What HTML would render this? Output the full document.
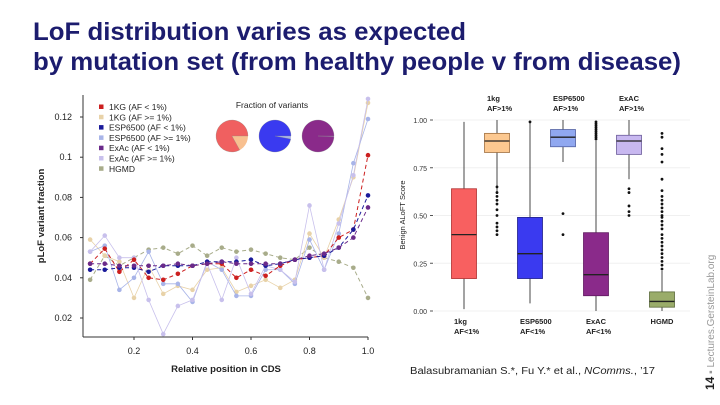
<!DOCTYPE html>
<html><head><meta charset="utf-8"><style>
html,body{margin:0;padding:0;background:#fff;}
svg{display:block;font-family:"Liberation Sans",sans-serif;}
</style></head><body>
<svg id="s" width="720" height="405" viewBox="0 0 720 405">
<text x="33" y="40" textLength="433" lengthAdjust="spacingAndGlyphs" font-size="25" font-weight="bold" fill="#1c1c6e">LoF distribution varies as expected</text>
<text x="33" y="70" textLength="648" lengthAdjust="spacingAndGlyphs" font-size="25" font-weight="bold" fill="#1c1c6e">by mutation set (from healthy people v from disease)</text>
<g id="left"></g>
<g id="right"></g>
<text x="410" y="374" font-size="10" textLength="245" lengthAdjust="spacingAndGlyphs" fill="#222">Balasubramanian S.*, Fu Y.*  et al., <tspan font-style="italic">NComms.</tspan>, ’17</text>
<text transform="translate(714,390) rotate(-90)" font-size="10" fill="#999"><tspan font-weight="bold" fill="#222" font-size="12">14</tspan> ▪ Lectures.GersteinLab.org</text>
</svg>
<script>
const NS='http://www.w3.org/2000/svg';
function mk(p,t,a,txt){const e=document.createElementNS(NS,t);for(const k in a)e.setAttribute(k,a[k]);if(txt!==undefined)e.textContent=txt;p.appendChild(e);return e;}

// ---------- left chart data ----------
const positions=[0.05,0.1,0.15,0.2,0.25,0.3,0.35,0.4,0.45,0.5,0.55,0.6,0.65,0.7,0.75,0.8,0.85,0.9,0.95,1.0];
const seriesNames=['1KG (AF < 1%)','1KG (AF >= 1%)','ESP6500 (AF < 1%)','ESP6500 (AF >= 1%)','ExAc (AF < 1%)','ExAc (AF >= 1%)','HGMD'];
const kg_rare=[0.047,0.0545,0.043,0.049,0.040,0.039,0.042,0.046,0.047,0.047,0.040,0.044,0.041,0.046,0.049,0.050,0.051,0.060,0.064,0.101];
const kg_common=[0.059,0.051,0.048,0.030,0.046,0.032,0.036,0.034,0.044,0.045,0.033,0.036,0.039,0.035,0.039,0.062,0.050,0.069,0.090,0.127];
const esp_rare=[0.044,0.044,0.045,0.045,0.043,0.046,0.046,0.046,0.048,0.048,0.048,0.049,0.046,0.047,0.049,0.050,0.051,0.055,0.064,0.081];
const esp_common=[0.053,0.056,0.034,0.040,0.053,0.037,0.037,0.028,0.048,0.044,0.031,0.031,0.044,0.044,0.037,0.059,0.044,0.062,0.097,0.119];
const exac_rare=[0.047,0.047,0.046,0.046,0.046,0.046,0.047,0.046,0.047,0.048,0.047,0.047,0.047,0.047,0.049,0.051,0.052,0.055,0.060,0.075];
const exac_common=[0.053,0.061,0.050,0.050,0.029,0.012,0.026,0.029,0.047,0.029,0.050,0.032,0.046,0.044,0.038,0.076,0.044,0.067,0.091,0.129];
const hgmd=[0.039,0.051,0.046,0.050,0.054,0.055,0.052,0.056,0.051,0.055,0.053,0.054,0.052,0.050,0.049,0.055,0.050,0.048,0.045,0.030];
const xTicks=[0.2,0.4,0.6,0.8,1.0];
const xTickLabels=['0.2','0.4','0.6','0.8','1.0'];
const yTicks=[0.02,0.04,0.06,0.08,0.1,0.12];
const yTickLabels=['0.02','0.04','0.06','0.08','0.1','0.12'];
const pieFractions=[0.83,0.97,0.995];

const lx=v=>134+(v-0.2)*292.5;
const ly=v=>117+(0.12-v)*2010;
const L=document.getElementById('left');
const colors=['#cc1f1f','#e8d2a8','#1a1a9a','#a8b4e8','#6a2a8a','#c8c0ec','#a8ac8a'];
const dashed=[true,false,true,false,true,false,true];
const allSeries=[kg_rare,kg_common,esp_rare,esp_common,exac_rare,exac_common,hgmd];
mk(L,'line',{x1:83,y1:95,x2:83,y2:337,stroke:'#333','stroke-width':1});
mk(L,'line',{x1:83,y1:337,x2:lx(1.0),y2:337,stroke:'#333','stroke-width':1});
yTicks.forEach((t,i)=>{const y=ly(t);mk(L,'line',{x1:80,y1:y,x2:83,y2:y,stroke:'#333'});
 mk(L,'text',{x:72,y:y+3,'font-size':9,'text-anchor':'end',fill:'#222'},yTickLabels[i]);});
xTicks.forEach((t,i)=>{const x=lx(t);mk(L,'line',{x1:x,y1:337,x2:x,y2:340,stroke:'#333'});
 mk(L,'text',{x:x,y:354,'font-size':9,'text-anchor':'middle',fill:'#222'},xTickLabels[i]);});
mk(L,'text',{x:226,y:372,'font-size':9.5,'font-weight':'bold','text-anchor':'middle',fill:'#222'},'Relative position in CDS');
mk(L,'text',{transform:'translate(44,216) rotate(-90)','font-size':9.5,'font-weight':'bold','text-anchor':'middle',fill:'#222'},'pLoF variant fraction');
const order=[6,1,3,5,0,2,4];
order.forEach(si=>{const d=allSeries[si];
 const pts=d.map((v,i)=>lx(positions[i])+','+ly(v)).join(' ');
 const pl=mk(L,'polyline',{points:pts,fill:'none',stroke:colors[si],'stroke-width':dashed[si]?1:0.8,'stroke-dasharray':dashed[si]?'4,3':'none'});
 
 
 d.forEach((v,i)=>{const c=mk(L,'circle',{cx:lx(positions[i]),cy:ly(v),r:2.3,fill:colors[si]});
  
  });
});
seriesNames.forEach((n,i)=>{const y=107+i*10.3;
 const r=mk(L,'rect',{x:99,y:y-2.5,width:4.5,height:4.5,fill:colors[i]});
 
 
 const t=mk(L,'text',{x:109,y:y+3,'font-size':8.5,fill:'#222'},n);
 
 });
mk(L,'text',{x:272,y:108,'font-size':8.5,'text-anchor':'middle',fill:'#222'},'Fraction of variants');
const pieC=[[232,136,'#f06060','#f8c090'],[275,136,'#3a3af0','#a8b4e8'],[318,136,'#8a2a8a','#c8c0ec']];
pieC.forEach((p,i)=>{const [cx,cy,c1,c2]=p;const r=16;
 mk(L,'circle',{cx,cy,r,fill:c2});
 const f=pieFractions[i];const a0=0,a1=2*Math.PI*f;
 const x0=cx+r*Math.cos(a0),y0=cy-r*Math.sin(a0);
 const x1=cx+r*Math.cos(a1),y1=cy-r*Math.sin(a1);
 const pa=mk(L,'path',{d:`M${cx},${cy} L${x0},${y0} A${r},${r} 0 ${f>0.5?1:0} 0 ${x1},${y1} Z`,fill:c1,stroke:'#888','stroke-width':0.3});
 
 });

// ---------- right chart data ----------
const boxNames=['1kg AF<1%','1kg AF>1%','ESP6500 AF<1%','ESP6500 AF>1%','ExAC AF<1%','ExAC AF>1%','HGMD'];
const boxQ1=[0.17,0.83,0.17,0.86,0.08,0.82,0.02];
const boxMed=[0.40,0.89,0.30,0.91,0.19,0.89,0.05];
const boxQ3=[0.64,0.93,0.49,0.95,0.41,0.92,0.10];
const boxLo=[0.01,0.62,0.04,0.78,0.00,0.69,0.00];
const boxHi=[0.99,1.00,0.99,1.00,0.89,1.00,0.21];
const boxOutliers=[[],[0.40,0.42,0.44,0.46,0.50,0.53,0.56,0.58,0.60,0.62,0.65],[0.99],[0.51,0.40],[0.90,0.91,0.92,0.93,0.94,0.95,0.96,0.97,0.98,0.99],[0.50,0.52,0.55,0.62,0.64],[0.22,0.24,0.26,0.28,0.30,0.32,0.34,0.36,0.38,0.40,0.43,0.45,0.47,0.49,0.50,0.52,0.54,0.56,0.58,0.60,0.63,0.69,0.78,0.82,0.85,0.91,0.93]];
const boxYTicks=[0,0.25,0.5,0.75,1.0];
const boxYLabels=['0.00','0.25','0.50','0.75','1.00'];
const boxFill=['#f86060','#fcc890','#3a3af0','#90a8f0','#8a2a8a','#c8b8f0','#9aac6a'];
const boxEdge=['#b03030','#a07040','#20208a','#5060a0','#601a60','#6a5a9a','#5a6a3a'];
const ry=v=>311-v*191;
const bx=i=>464+i*33;
const R=document.getElementById('right');
boxYTicks.forEach((t,i)=>{const y=ry(t);
 mk(R,'line',{x1:434,y1:y,x2:690,y2:y,stroke:'#f0f0f0'});
 mk(R,'line',{x1:430,y1:y,x2:433,y2:y,stroke:'#555'});
 mk(R,'text',{x:427,y:y+3,'font-size':7,'text-anchor':'end',fill:'#333'},boxYLabels[i]);});
mk(R,'text',{transform:'translate(405,215) rotate(-90)','font-size':7.5,'text-anchor':'middle',fill:'#222'},'Benign ALoFT Score');
boxNames.forEach((n,i)=>{const x=bx(i),w=25;
 const g=mk(R,'g',{});
 
 
 mk(g,'line',{x1:x,y1:ry(boxLo[i]),x2:x,y2:ry(boxHi[i]),stroke:'#666','stroke-width':1.2});
 mk(g,'rect',{x:x-w/2,y:ry(boxQ3[i]),width:w,height:ry(boxQ1[i])-ry(boxQ3[i]),fill:boxFill[i],stroke:boxEdge[i],'stroke-width':0.8});
 mk(g,'line',{x1:x-w/2,y1:ry(boxMed[i]),x2:x+w/2,y2:ry(boxMed[i]),stroke:'#222','stroke-width':1.3});
 boxOutliers[i].forEach(v=>mk(g,'circle',{cx:x,cy:ry(v),r:1.4,fill:'#111'}));
 const parts=n.split(' ');
 const top=(i%2===1);
 const ty=top?101:324;
 parts.forEach((p,k)=>mk(R,'text',{x:x-(i===6?0:10),y:ty+k*10,'font-size':7.5,'font-weight':'bold','text-anchor':i===6?'middle':'start',fill:'#222'},p));
});
</script>
</body></html>
